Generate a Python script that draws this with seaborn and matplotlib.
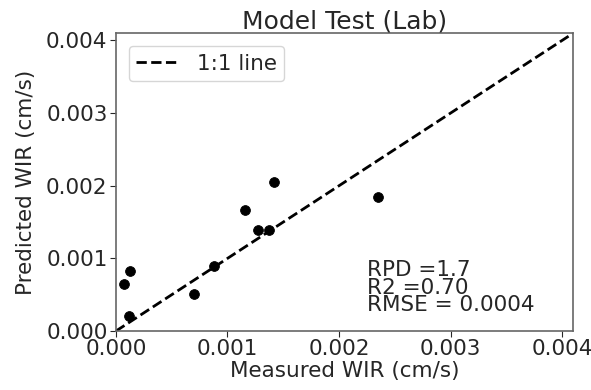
import matplotlib
matplotlib.use("Agg")
import matplotlib.pyplot as plt
import seaborn as sns
import pandas as pd

# measured vs predicted WIR (cm/s)
measured = [0.00142, 0.00116, 0.00235, 0.00127, 0.00137, 0.00088, 0.00070,
            0.00013, 0.00007, 0.00012]
predicted = [0.00205, 0.00166, 0.00184, 0.00139, 0.00139, 0.00089, 0.00051,
             0.00083, 0.00065, 0.00021]
lim = 0.0041
ticks = [0.000, 0.001, 0.002, 0.003, 0.004]
stats_text = "RPD =1.7\nR2 =0.70\nRMSE = 0.0004"

sns.set_style("ticks")
plt.rcParams['font.family'] = ['DejaVu Sans']

df = pd.DataFrame({"measured": measured, "predicted": predicted})

fig, ax = plt.subplots(figsize=(5.91, 3.9), dpi=100)
sns.scatterplot(data=df, x="measured", y="predicted", color="black",
                s=50, edgecolor="black", ax=ax, zorder=3)
ax.plot([0, lim], [0, lim], "k--", lw=2, label="1:1 line")

ax.set_xlim(0, lim)
ax.set_ylim(0, lim)
ax.set_xticks(ticks)
ax.set_yticks(ticks)
ax.set_xticklabels([f"{t:.3f}" for t in ticks], fontsize=15.5)
ax.set_yticklabels([f"{t:.3f}" for t in ticks], fontsize=15.5)
ax.tick_params(length=4, pad=2)
ax.set_xlabel("Measured WIR (cm/s)", fontsize=15.5, labelpad=1)
ax.set_ylabel("Predicted WIR (cm/s)", fontsize=15.5, labelpad=7)
ax.set_title("Model Test (Lab)", fontsize=18, pad=3)
ax.text(0.00225, 0.00022, stats_text, fontsize=15.5, linespacing=0.85,
        va="bottom", ha="left")
ax.legend(loc="upper left", fontsize=15.5, handlelength=2.0,
          borderpad=0.35, borderaxespad=0.6)
for s in ax.spines.values():
    s.set_color("0.4")
    s.set_linewidth(1.2)

fig.subplots_adjust(left=0.196, right=0.97, bottom=0.151, top=0.915)
fig.savefig("out.png", dpi=100)
